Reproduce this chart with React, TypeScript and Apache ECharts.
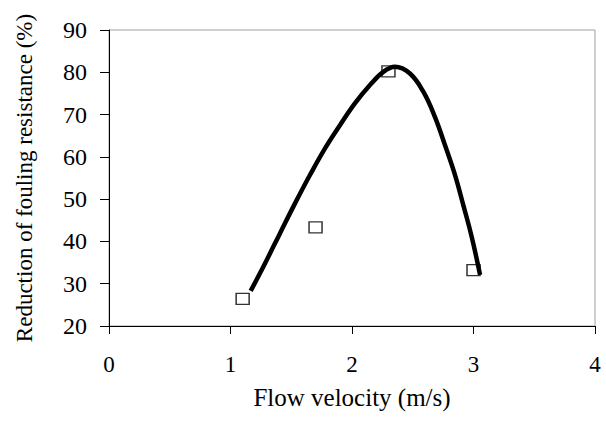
import React, { useEffect, useRef } from "react";
import * as echarts from "echarts";

const measuredX = [1.1, 1.7, 2.3, 3.0];
const measuredY = [26.4, 43.3, 80.2, 33.2];

const curveX = [1.166, 1.284, 1.407, 1.531, 1.654, 1.778, 1.901, 2.025, 2.148, 2.258, 2.354, 2.477, 2.587, 2.683, 2.765, 2.848, 2.916, 2.985, 3.054];
const curveY = [28.3, 34.8, 41.9, 49.0, 55.7, 62.0, 67.5, 72.7, 77.0, 80.1, 81.3, 79.7, 75.4, 69.4, 62.8, 55.7, 48.6, 41.1, 32.1];

const xTicks = [0, 1, 2, 3, 4];
const yTicks = [20, 30, 40, 50, 60, 70, 80, 90];

const FONT = "Liberation Serif";

export default function App() {
  const ref = useRef<HTMLDivElement>(null);
  useEffect(() => {
    if (!ref.current) return;
    const chart = echarts.init(ref.current, null, { renderer: "svg" });
    chart.setOption({
      animation: false,
      backgroundColor: "#fff",
      grid: {
        left: 109,
        right: 11,
        top: 30,
        bottom: 95,
        containLabel: false,
        outerBoundsMode: "none",
        show: true,
        borderColor: "#a0a0a0",
        borderWidth: 1,
        backgroundColor: "transparent",
      },
      xAxis: {
        type: "value",
        min: xTicks[0],
        max: xTicks[xTicks.length - 1],
        interval: 1,
        name: "Flow velocity (m/s)",
        nameLocation: "middle",
        nameGap: 59,
        nameTextStyle: { fontFamily: FONT, fontSize: 25, color: "#000" },
        axisLine: { show: true, lineStyle: { color: "#000", width: 1 } },
        axisTick: { show: true, inside: false, length: 8, lineStyle: { color: "#000" } },
        axisLabel: { fontFamily: FONT, fontSize: 23, color: "#000", margin: 27 },
        splitLine: { show: false },
      },
      yAxis: {
        type: "value",
        min: yTicks[0],
        max: yTicks[yTicks.length - 1],
        interval: 10,
        name: "Reduction of fouling resistance (%)",
        nameLocation: "middle",
        nameGap: 73,
        nameTextStyle: { fontFamily: FONT, fontSize: 23, color: "#000" },
        axisLine: { show: true, lineStyle: { color: "#000", width: 1 } },
        axisTick: { show: true, inside: false, length: 9, lineStyle: { color: "#000" } },
        axisLabel: { fontFamily: FONT, fontSize: 24, color: "#000", margin: 22 },
        splitLine: { show: false },
      },
      series: [
        {
          type: "scatter",
          data: measuredX.map((x, i) => [x, measuredY[i]]),
          symbol: "rect",
          symbolSize: [13, 11],
          itemStyle: { color: "#fff", borderColor: "#000", borderWidth: 1.4 },
          z: 2,
        },
        {
          type: "line",
          data: curveX.map((x, i) => [x, curveY[i]]),
          smooth: 0.4,
          showSymbol: false,
          lineStyle: { color: "#000", width: 4.5 },
          z: 3,
        },
      ],
    });
    return () => chart.dispose();
  }, []);
  return <div ref={ref} style={{ width: 606, height: 421, position: "absolute", left: 0, top: 0 }} />;
}
